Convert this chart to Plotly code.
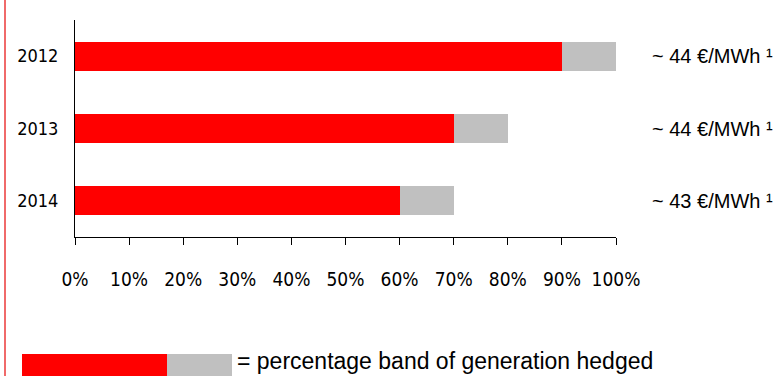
import plotly.graph_objects as go

years = ["2012", "2013", "2014"]
hedged_min = [90, 70, 60]      # red part (%)
hedged_band = [10, 10, 10]     # grey band (%)
prices = ["~ 44 €/MWh ¹", "~ 44 €/MWh ¹", "~ 43 €/MWh ¹"]
xticks = [0, 10, 20, 30, 40, 50, 60, 70, 80, 90, 100]
legend_text = "= percentage band of generation hedged"

RED = "#ff0000"
GREY = "#c0c0c0"
COND = "DejaVu Sans Condensed, Liberation Sans Narrow, Open Sans, sans-serif"
ARIAL = "Liberation Sans, Arial, sans-serif"

W, H = 784, 376
L, R, T, B = 75, 168, 20, 139
pw = W - L - R
ph = H - T - B

def px(x):
    return (x - L) / pw

def py(y):
    return (H - B - y) / ph

fig = go.Figure()
fig.add_trace(go.Bar(y=years, x=hedged_min, orientation="h", marker=dict(color=RED, line=dict(width=0)),
                     width=0.4, showlegend=False, hoverinfo="skip"))
fig.add_trace(go.Bar(y=years, x=hedged_band, orientation="h", marker=dict(color=GREY, line=dict(width=0)),
                     width=0.4, showlegend=False, hoverinfo="skip"))

for i, p in enumerate(prices):
    fig.add_annotation(x=px(650), xref="paper", y=i, yref="y", text=p, showarrow=False,
                       xanchor="left", yanchor="middle", font=dict(family=ARIAL, size=20, color="#000"))

# legend swatch
fig.add_shape(type="rect", xref="paper", yref="paper", x0=px(22), x1=px(167), y0=py(354), y1=py(380),
              fillcolor=RED, line=dict(width=0))
fig.add_shape(type="rect", xref="paper", yref="paper", x0=px(167), x1=px(232), y0=py(354), y1=py(380),
              fillcolor=GREY, line=dict(width=0))
fig.add_annotation(x=px(235), xref="paper", y=py(361), yref="paper", text=legend_text, showarrow=False,
                   xanchor="left", yanchor="middle", font=dict(family=ARIAL, size=23, color="#000"))
# left border line
fig.add_shape(type="line", xref="paper", yref="paper", x0=px(5), x1=px(5), y0=py(0), y1=py(376),
              line=dict(color="#f06a6a", width=2))

fig.update_layout(
    width=W, height=H, margin=dict(l=L, r=R, t=T, b=B, pad=0),
    barmode="stack", bargap=0.6,
    plot_bgcolor="white", paper_bgcolor="white",
    xaxis=dict(range=[0, 100], tickvals=xticks, ticktext=[f"{v}%" for v in xticks],
               showgrid=False, zeroline=False, showline=True, linecolor="#000", linewidth=1,
               ticks="outside", ticklen=7, tickcolor="#000", tickwidth=1,
               ticklabelstandoff=18,
               tickfont=dict(family=COND, size=19, color="#000"), fixedrange=True),
    yaxis=dict(type="category", categoryorder="array", categoryarray=years, range=[2.5, -0.5],
               showgrid=False, zeroline=False, showline=True, linecolor="#000", linewidth=1,
               ticks="", ticklabelstandoff=12,
               tickfont=dict(family=COND, size=18, color="#000"), fixedrange=True),
)

fig.write_html("out.html")
